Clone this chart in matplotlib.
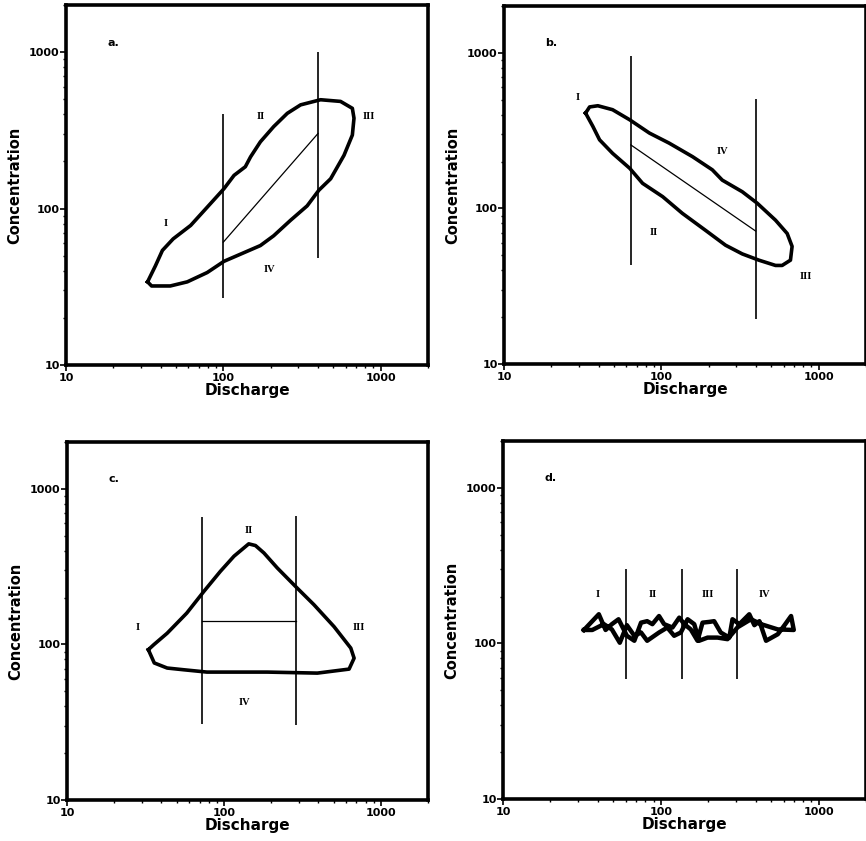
import matplotlib.pyplot as plt
from matplotlib.ticker import LogLocator, NullFormatter, FixedLocator, FixedFormatter

# panel a: clockwise hysteresis loop
a_loop_q = [33, 35, 46, 59, 79, 101, 128, 172, 209, 267, 341, 405, 481, 585, 661, 677,
            661, 556, 415, 310, 255, 209, 172, 149, 138, 117, 101, 79, 62, 48, 41, 37, 33]
a_loop_c = [34, 32, 32, 34, 39, 46, 51, 58, 67, 84, 104, 131, 155, 219, 295, 378,
            437, 484, 496, 460, 406, 334, 267, 214, 185, 163, 134, 102, 78, 64, 54, 43, 34]
a_vlines_q = [100, 400]
a_vlines_lo = [27, 48]
a_vlines_hi = [400, 1000]
a_mid_q = [100, 400]
a_mid_c = [61, 302]
a_labels = ["I", "II", "III", "IV"]
a_label_q = [43, 172, 843, 195]
a_label_c = [80, 387, 387, 41]

# panel b: dilution loop
b_loop_q = [33, 35, 39.5, 49, 63, 84, 112, 158, 211, 244, 327, 407, 532, 631, 678, 662,
            586, 532, 417, 327, 256, 192, 136, 102, 76, 63, 49, 40.5, 36.7, 33]
b_loop_c = [410, 449, 457, 431, 371, 305, 263, 215, 177, 152, 128, 108, 84, 69, 57, 46.5,
            43, 43, 46.5, 51, 58, 72, 93, 119, 145, 181, 226, 276, 337, 410]
b_vlines_q = [64, 398]
b_vlines_lo = [43, 19.5]
b_vlines_hi = [950, 505]
b_mid_q = [64, 398]
b_mid_c = [256, 71.5]
b_labels = ["I", "IV", "II", "III"]
b_label_q = [29.5, 244, 89, 824]
b_label_c = [518, 232, 70, 36.6]

# panel c: triangle
c_loop_q = [33, 36, 43.5, 55.6, 78, 116, 189, 394, 628, 676, 644, 504, 375, 286, 219,
            180, 159, 144, 116, 95, 74.5, 58, 43.5, 35.7, 33]
c_loop_c = [92.5, 76, 70.5, 68.7, 66.4, 66.4, 66.4, 65.4, 69.4, 81.6, 94.7, 130, 180, 236, 310,
            387, 432, 443, 369, 295, 219, 159, 118, 99.5, 92.5]
c_vlines_q = [73, 290]
c_vlines_lo = [31, 30.4]
c_vlines_hi = [661, 673]
c_mid_q = [73, 290]
c_mid_c = [142, 142]
c_labels = ["I", "II", "III", "IV"]
c_label_q = [28.4, 143, 728, 136]
c_label_c = [129, 540, 129, 42.4]

# panel d: no relation, noisy band
d_loop_q = [32.6, 40.5, 44.7, 49, 54, 61, 68, 75, 82, 88.5, 97.5, 105, 118.6, 131, 141, 155,
            171, 184, 203, 218, 240, 272, 285, 315, 364, 392, 422, 465, 552, 609, 670, 697,
            552, 432, 373, 307, 265, 229, 198, 175, 163, 148, 134, 121.6, 110, 97.5, 82,
            75, 68, 61, 55, 49, 43.6, 36.8, 32.6]
d_loop_c = [122, 154, 122, 133, 143, 112, 104, 136, 139, 133, 150, 133, 126.5, 146.5, 133, 123,
            104, 136, 137.5, 139, 117.5, 109, 143, 133, 154, 131, 139, 104, 114.6, 131, 150, 122,
            123, 133, 143, 127, 106.5, 109, 109, 104, 133, 143, 117.5, 112, 126.5, 117.5, 104,
            117.5, 112, 131, 101, 123, 133, 122, 122]
d_vlines_q = [60.6, 136, 304]
d_vlines_lo = [59.4, 59.4, 59.4]
d_vlines_hi = [299, 299, 299]
d_labels = ["I", "II", "III", "IV"]
d_label_q = [40, 88.5, 200, 454]
d_label_c = [207, 207, 207, 207]

panel_letters = ["a.", "b.", "c.", "d."]

fig = plt.figure(figsize=(8.66, 8.41), dpi=100)

positions = [
    [66 / 866, 1 - 365 / 841, 362 / 866, 360 / 841],
    [504 / 866, 1 - 364 / 841, 362 / 866, 358 / 841],
    [67 / 866, 1 - 800 / 841, 361 / 866, 358 / 841],
    [503 / 866, 1 - 799 / 841, 363 / 866, 358 / 841],
]


def setup_axes(ax, letter):
    ax.set_xscale("log")
    ax.set_yscale("log")
    ax.set_xlim(10, 2000)
    ax.set_ylim(10, 2000)
    for sp in ax.spines.values():
        sp.set_linewidth(2.6)
    ax.xaxis.set_major_locator(FixedLocator([10, 100, 1000]))
    ax.xaxis.set_major_formatter(FixedFormatter(["10", "100", "1000"]))
    ax.yaxis.set_major_locator(FixedLocator([10, 100, 1000]))
    ax.yaxis.set_major_formatter(FixedFormatter(["10", "100", "1000"]))
    ax.xaxis.set_minor_locator(LogLocator(base=10, subs=range(2, 10)))
    ax.yaxis.set_minor_locator(LogLocator(base=10, subs=range(2, 10)))
    ax.xaxis.set_minor_formatter(NullFormatter())
    ax.yaxis.set_minor_formatter(NullFormatter())
    ax.tick_params(which="major", direction="out", length=4, width=1.2, pad=1.5,
                   labelsize=8)
    ax.tick_params(which="minor", direction="out", length=2.5, width=1)
    ax.tick_params(axis="y", which="major", pad=0.5)
    for lab in ax.get_xticklabels() + ax.get_yticklabels():
        lab.set_fontweight("bold")
    ax.set_xlabel("Discharge", fontsize=11, fontweight="bold", labelpad=0)
    ax.set_ylabel("Concentration", fontsize=10.5, fontweight="bold", labelpad=5)
    ax.text(20, 1150, letter, fontsize=8, fontweight="bold", ha="center", va="center")


def roman(ax, labels, qs, cs):
    for lab, q, c in zip(labels, qs, cs):
        ax.text(q, c, lab, fontsize=7.5, fontweight="bold", family="Liberation Serif",
                ha="center", va="center")


panels = [
    (a_loop_q, a_loop_c, a_vlines_q, a_vlines_lo, a_vlines_hi, a_mid_q, a_mid_c,
     a_labels, a_label_q, a_label_c),
    (b_loop_q, b_loop_c, b_vlines_q, b_vlines_lo, b_vlines_hi, b_mid_q, b_mid_c,
     b_labels, b_label_q, b_label_c),
    (c_loop_q, c_loop_c, c_vlines_q, c_vlines_lo, c_vlines_hi, c_mid_q, c_mid_c,
     c_labels, c_label_q, c_label_c),
    (d_loop_q, d_loop_c, d_vlines_q, d_vlines_lo, d_vlines_hi, None, None,
     d_labels, d_label_q, d_label_c),
]

for i, (lq, lc, vq, vlo, vhi, mq, mc, labs, tq, tc) in enumerate(panels):
    ax = fig.add_axes(positions[i])
    setup_axes(ax, panel_letters[i])
    lw = 3.2 if i == 3 else 2.6
    ax.plot(lq, lc, color="black", linewidth=lw, solid_joinstyle="round")
    ax.vlines(vq, vlo, vhi, color="black", linewidth=1.2)
    if mq is not None:
        ax.plot(mq, mc, color="black", linewidth=0.9)
    roman(ax, labs, tq, tc)

fig.savefig("out.png", dpi=100, facecolor="white")
